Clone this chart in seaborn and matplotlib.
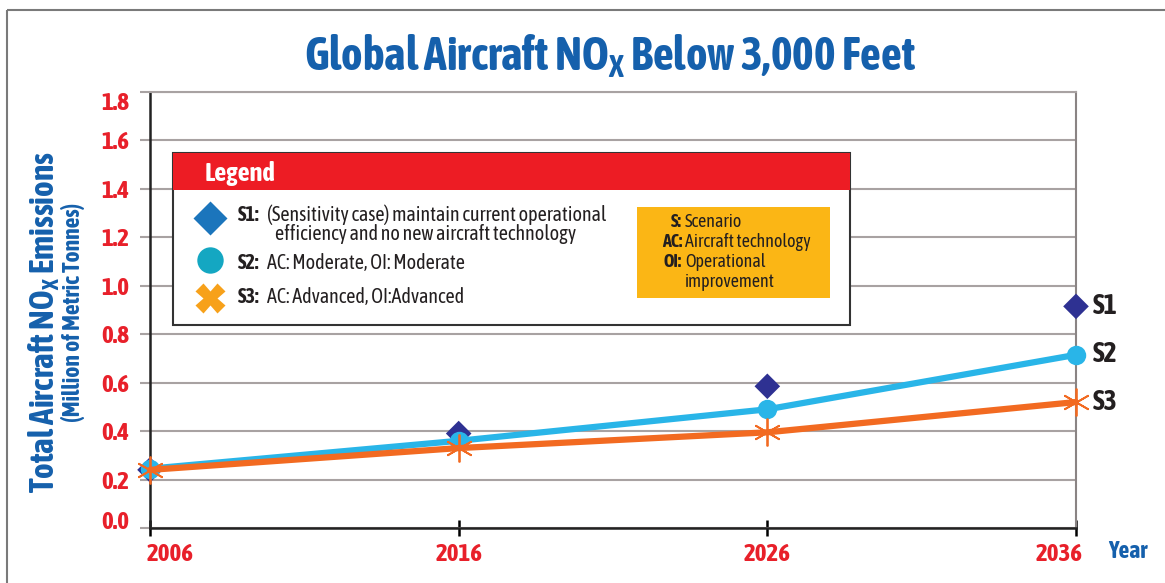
import matplotlib
matplotlib.use("Agg")
import matplotlib.pyplot as plt
import matplotlib.font_manager as fm
import matplotlib.transforms as mtrans
from matplotlib.patches import Rectangle
import pandas as pd
import seaborn as sns

# data
years = [2006, 2016, 2026, 2036]
s1 = [0.24, 0.39, 0.585, 0.915]
s2 = [0.245, 0.36, 0.49, 0.715]
s3 = [0.24, 0.33, 0.395, 0.52]
yticks = [0.0, 0.2, 0.4, 0.6, 0.8, 1.0, 1.2, 1.4, 1.6, 1.8]

sns.set_theme(style="white")


def wt(f):
    w = f.weight
    return w if isinstance(w, int) else fm.weight_dict.get(w, 400)


narrow = [f for f in fm.fontManager.ttflist
          if ("Narrow" in f.name or "Condensed" in f.name) and f.style == "normal"]
narrow_bold = sorted({f.name for f in narrow if wt(f) >= 600})
narrow_reg = sorted({f.name for f in narrow if wt(f) < 600})
BOLDF = narrow_bold[0] if narrow_bold else "Roboto"
REGF = BOLDF if BOLDF in narrow_reg else (narrow_reg[0] if narrow_reg else "Roboto")

plt.rcParams["font.family"] = [REGF, "DejaVu Sans"]
plt.rcParams["mathtext.fontset"] = "custom"
plt.rcParams["mathtext.rm"] = BOLDF + ":bold"
plt.rcParams["mathtext.bf"] = BOLDF + ":bold"
BF = dict(family=[BOLDF, "DejaVu Sans"], fontweight="bold")

BLUE = "#1560ac"
RED = "#e8202a"
GRID = "#a8a2a2"
INK = "#231f20"

df1 = pd.DataFrame({"year": years, "val": s1})
df2 = pd.DataFrame({"year": years, "val": s2})
df3 = pd.DataFrame({"year": years, "val": s3})

fig = plt.figure(figsize=(11.65, 5.83), dpi=100)
fig.patch.set_facecolor("white")
W, H = 1165, 583
x0, x1, ytop, ybot = 150, 1076, 92, 528
ax = fig.add_axes([x0 / W, 1 - ybot / H, (x1 - x0) / W, (ybot - ytop) / H])
ax.set_facecolor("white")

sns.scatterplot(data=df1, x="year", y="val", ax=ax, marker="D", s=170,
                color="#2e3192", edgecolor="none", zorder=3, clip_on=False)
sns.lineplot(data=df2, x="year", y="val", ax=ax, color="#29b5e8", lw=4.5,
             marker="o", markersize=14, markeredgewidth=0, zorder=4, clip_on=False)
sns.lineplot(data=df3, x="year", y="val", ax=ax, color="#f26a21", lw=4.5,
             marker=(6, 2, 0), markersize=20, markeredgewidth=1.3,
             markeredgecolor="#f26a21", zorder=5, clip_on=False)

ax.set_xlim(2006, 2036)
ax.set_ylim(0, 1.8)
ax.set_xticks(years)
ax.set_xticklabels([str(y) for y in years])
ax.set_yticks(yticks)
ax.set_yticklabels([f"{v:.1f}" for v in yticks])
ax.set_xlabel("")
ax.set_ylabel("")
ax.grid(axis="y", color=GRID, lw=1.5)
for lab in ax.get_xticklabels() + ax.get_yticklabels():
    lab.set_color(RED)
    lab.set_family([BOLDF, "DejaVu Sans"])
    lab.set_fontweight("bold")
    lab.set_fontsize(18)
ax.tick_params(axis="x", bottom=True, direction="inout", length=12, width=1.8,
               color="black", pad=5)
ax.tick_params(axis="y", left=True, direction="out", length=7, width=1.5,
               color=GRID, pad=8)

# end labels sit inside the plot span, as in the original
def nudge(lab, dx, dy):
    lab.set_transform(lab.get_transform() +
                      mtrans.ScaledTranslation(dx / 100, dy / 100, fig.dpi_scale_trans))

xl = ax.get_xticklabels()
nudge(xl[0], 20, 0)
nudge(xl[-1], -17, 0)
yl = ax.get_yticklabels()
nudge(yl[0], 0, 8)
nudge(yl[-1], 0, -9)

ax.spines["left"].set_color("#222222")
ax.spines["bottom"].set_color("#222222")
ax.spines["left"].set_linewidth(1.8)
ax.spines["bottom"].set_linewidth(1.8)
ax.spines["top"].set_color(GRID)
ax.spines["right"].set_color("#8a8484")
ax.spines["top"].set_linewidth(1.5)
ax.spines["right"].set_linewidth(1.5)

# scenario labels at the right end
for name, val in zip(["S1", "S2", "S3"], [s1[-1], s2[-1], s3[-1]]):
    ax.annotate(name, (years[-1], val), xytext=(12, 0), textcoords="offset points",
                ha="left", va="center", fontsize=20, color=INK,
                annotation_clip=False, **BF)

# overlay in pixel coordinates for title, legend panel etc.
ov = fig.add_axes([0, 0, 1, 1], zorder=10)
ov.set_xlim(0, W)
ov.set_ylim(H, 0)
ov.axis("off")
ov.patch.set_alpha(0)

ov.add_patch(Rectangle((7, 10), W + 20, H + 20, fill=False, ec="#7a7a7a", lw=1.5))
ov.text(610, 57, r"Global Aircraft NO$_{\mathrm{X}}$ Below 3,000 Feet", ha="center",
        va="center", fontsize=33, color=BLUE, **BF)
ov.text(44, 322, r"Total Aircraft NO$_{\mathrm{X}}$ Emissions", rotation=90,
        ha="center", va="center", fontsize=24, color=BLUE, **BF)
ov.text(73, 312, "(Million of Metric Tonnes)", rotation=90, ha="center",
        va="center", fontsize=17, color=BLUE, **BF)
ov.text(1108, 552, "Year", ha="left", va="center", fontsize=17, color=BLUE, **BF)

# legend panel
ov.add_patch(Rectangle((173, 153), 677, 172, fc="white", ec="#333333", lw=1.5))
ov.add_patch(Rectangle((173, 153), 677, 37, fc="#ed1c24", ec="none"))
ov.text(205, 174, "Legend", ha="left", va="center", fontsize=19,
        color="white", **BF)
ov.plot([210], [218], marker="D", ms=17, color="#1b75bc", mec="none")
ov.plot([210], [260], marker="o", ms=19, color="#14a7c2", mec="none")
ov.plot([210], [298], marker="X", ms=21, color="#f7a11a", mec="none")
tx = 238
fs = 14.5
ov.text(tx, 215, "S1:", fontsize=fs, color=INK, va="center", **BF)
ov.text(tx + 29, 215, "(Sensitivity case) maintain current operational",
        fontsize=fs, color=INK, va="center")
ov.text(tx + 37, 234, "efficiency and no new aircraft technology",
        fontsize=fs, color=INK, va="center")
ov.text(tx, 263, "S2:", fontsize=fs, color=INK, va="center", **BF)
ov.text(tx + 29, 263, "AC: Moderate, OI: Moderate", fontsize=fs,
        color=INK, va="center")
ov.text(tx, 297, "S3:", fontsize=fs, color=INK, va="center", **BF)
ov.text(tx + 29, 297, "AC: Advanced, OI:Advanced", fontsize=fs,
        color=INK, va="center")

ov.add_patch(Rectangle((637, 207), 193, 91, fc="#fbb615", ec="none"))
for yy, key, desc in [(222, "S:", "Scenario"), (242, "AC:", "Aircraft technology"),
                      (262, "OI:", "Operational")]:
    ov.text(682, yy, key, ha="right", va="center", fontsize=13, color=INK, **BF)
    ov.text(685, yy, desc, ha="left", va="center", fontsize=13, color=INK)
ov.text(685, 282, "improvement", ha="left", va="center", fontsize=13, color=INK)

fig.savefig("out.png", dpi=100)
